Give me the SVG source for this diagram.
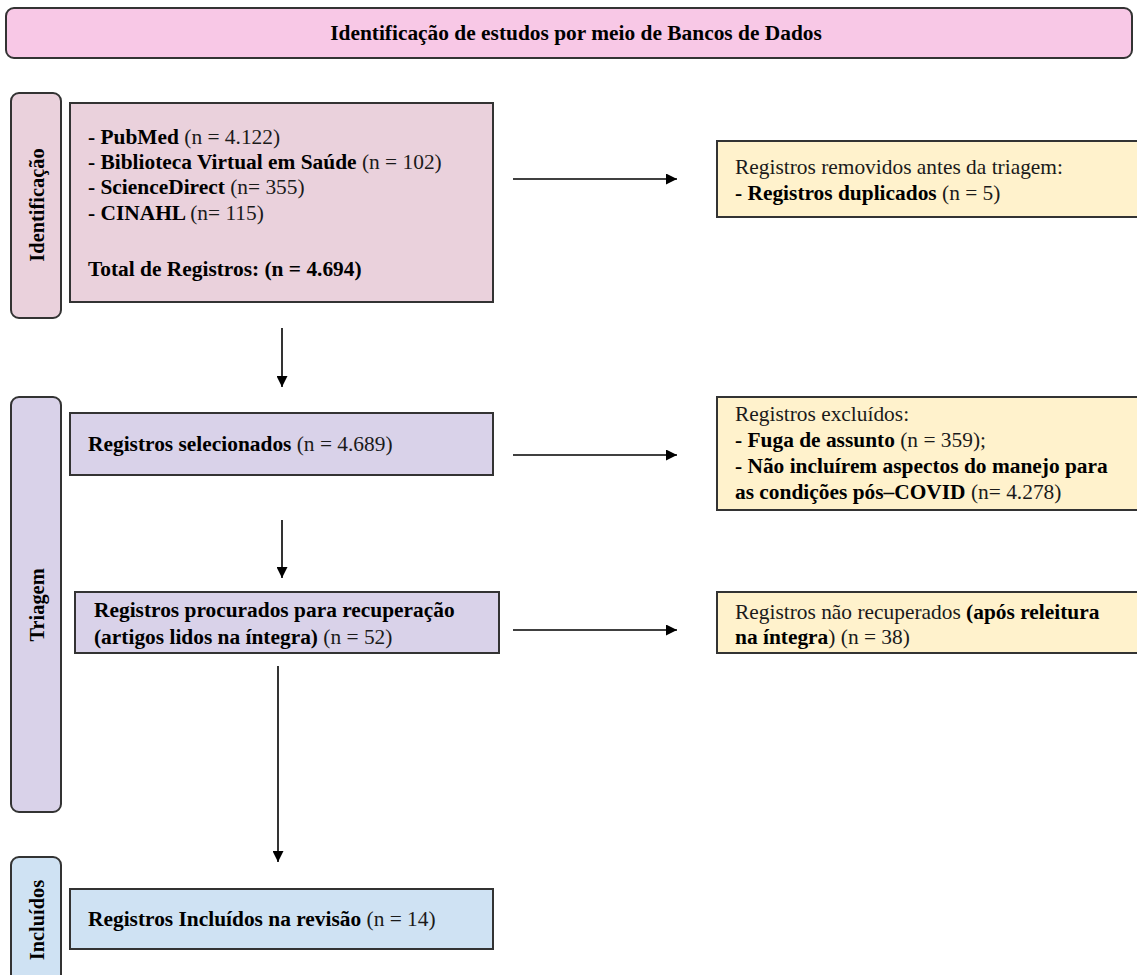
<svg xmlns="http://www.w3.org/2000/svg" width="1137" height="975" viewBox="0 0 1137 975">
<style>
text{font-family:"Liberation Serif","Times New Roman",serif;font-size:21.4px;fill:#1a1a1a}
.b{font-weight:bold;fill:#000}
.box{stroke:#333;stroke-width:2}
.side{stroke:#333;stroke-width:2}
.lbl{font-weight:bold;fill:#000;font-size:20.4px}
.conn line{stroke:#000;stroke-width:1.6}
</style>
<defs>
<marker id="ah" viewBox="0 0 10 10" refX="10" refY="5" markerWidth="14" markerHeight="11" markerUnits="userSpaceOnUse" orient="auto">
<path d="M0,0 L10,5 L0,10 z" fill="#000"/>
</marker>
</defs>
<g id="title">
<rect x="6" y="8" width="1126" height="50" rx="8" fill="#f8c8e6" class="box"/>
<text x="576" y="40" text-anchor="middle" class="b">Identificação de estudos por meio de Bancos de Dados</text>
</g>
<g id="side-identificacao">
<rect x="11" y="93" width="50" height="225" rx="8" fill="#ead1dc" class="side"/>
<text transform="translate(44,205) rotate(-90)" text-anchor="middle" class="lbl">Identificação</text>
</g>
<g id="side-triagem">
<rect x="11" y="397" width="50" height="415" rx="8" fill="#d9d2e9" class="side"/>
<text transform="translate(44,605) rotate(-90)" text-anchor="middle" class="lbl">Triagem</text>
</g>
<g id="side-incluidos">
<rect x="11" y="857" width="50" height="140" rx="8" fill="#cfe2f3" class="side"/>
<text transform="translate(44,920) rotate(-90)" text-anchor="middle" class="lbl">Incluídos</text>
</g>
<g id="n-bases">
<rect x="70" y="103" width="423" height="199" fill="#ead1dc" class="box"/>
<text x="88" y="144"><tspan class="b">- PubMed </tspan>(n = 4.122)</text>
<text x="88" y="169"><tspan class="b">- Biblioteca Virtual em Saúde </tspan>(n = 102)</text>
<text x="88" y="194"><tspan class="b">- ScienceDirect </tspan>(n= 355)</text>
<text x="88" y="220"><tspan class="b">- CINAHL </tspan>(n= 115)</text>
<text x="88" y="276" class="b">Total de Registros: (n = 4.694)</text>
</g>
<g id="n-removidos">
<rect x="717" y="141" width="430" height="76" fill="#fff2cc" class="box"/>
<text x="735" y="174">Registros removidos antes da triagem:</text>
<text x="735" y="200"><tspan class="b">- Registros duplicados </tspan>(n = 5)</text>
</g>
<g id="n-selecionados">
<rect x="70" y="413" width="423" height="62" fill="#d9d2e9" class="box"/>
<text x="88" y="451"><tspan class="b">Registros selecionados </tspan>(n = 4.689)</text>
</g>
<g id="n-excluidos">
<rect x="717" y="397" width="430" height="113" fill="#fff2cc" class="box"/>
<text x="735" y="421">Registros excluídos:</text>
<text x="735" y="447"><tspan class="b">- Fuga de assunto </tspan>(n = 359);</text>
<text x="735" y="473" class="b">- Não incluírem aspectos do manejo para</text>
<text x="735" y="499"><tspan class="b">as condições pós–COVID </tspan>(n= 4.278)</text>
</g>
<g id="n-procurados">
<rect x="75" y="592" width="424" height="61" fill="#d9d2e9" class="box"/>
<text x="94" y="617" class="b">Registros procurados para recuperação</text>
<text x="94" y="644"><tspan class="b">(artigos lidos na íntegra) </tspan>(n = 52)</text>
</g>
<g id="n-nao-recuperados">
<rect x="717" y="592" width="430" height="61" fill="#fff2cc" class="box"/>
<text x="735" y="619">Registros não recuperados <tspan class="b">(após releitura</tspan></text>
<text x="735" y="644"><tspan class="b">na íntegra</tspan>) (n = 38)</text>
</g>
<g id="n-incluidos">
<rect x="70" y="889" width="423" height="60" fill="#cfe2f3" class="box"/>
<text x="88" y="926"><tspan class="b">Registros Incluídos na revisão </tspan>(n = 14)</text>
</g>
<g id="connectors" class="conn">
<line x1="513" y1="179" x2="677" y2="179" marker-end="url(#ah)"/>
<line x1="282" y1="328" x2="282" y2="387" marker-end="url(#ah)"/>
<line x1="513" y1="455" x2="677" y2="455" marker-end="url(#ah)"/>
<line x1="282" y1="520" x2="282" y2="578" marker-end="url(#ah)"/>
<line x1="513" y1="630" x2="677" y2="630" marker-end="url(#ah)"/>
<line x1="278" y1="666" x2="278" y2="862" marker-end="url(#ah)"/>
</g>
</svg>
